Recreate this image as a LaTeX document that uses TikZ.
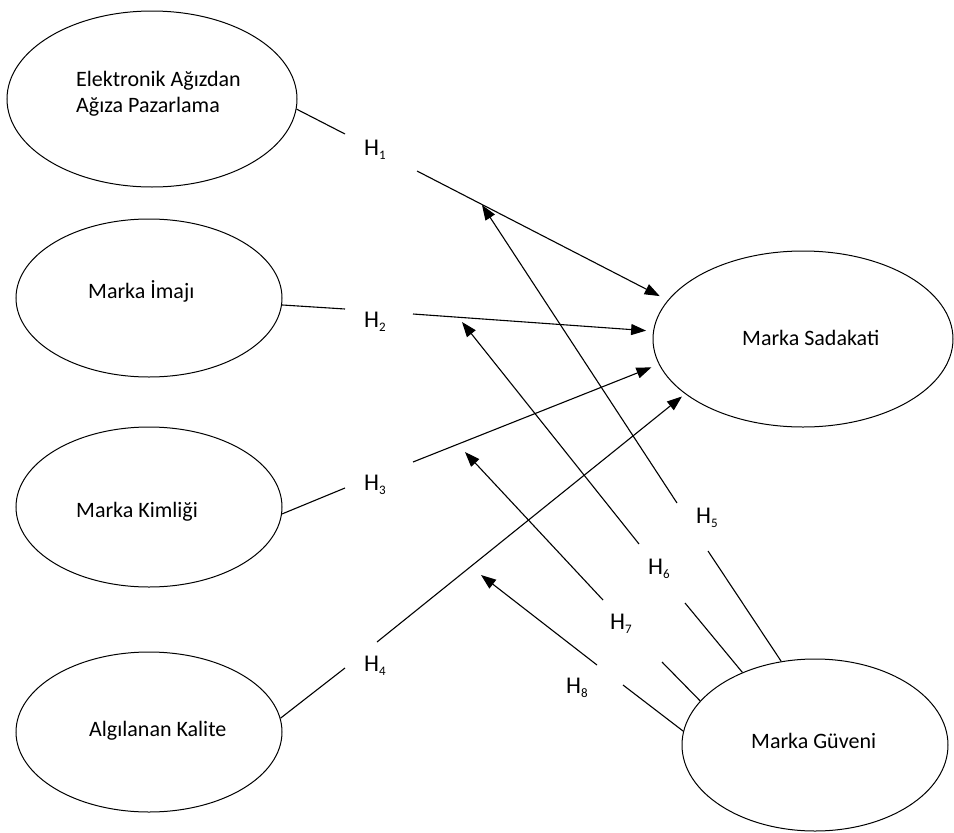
\documentclass[tikz,border=0pt]{standalone}
\usepackage{fontspec}
\setmainfont{Carlito}
\usetikzlibrary{arrows.meta,shapes.geometric}
\newcommand\hsub[1]{\raisebox{-4pt}{\fontsize{13}{13}\selectfont #1}}
\begin{document}
\begin{tikzpicture}[x=1pt,y=-1pt,
  ell/.style={draw, ellipse, line width=1pt, inner sep=0pt},
  lbl/.style={inner sep=0pt, anchor=base west, font=\fontsize{22}{26}\selectfont},
  hyp/.style={inner sep=0pt, anchor=base west, font=\fontsize{24}{28}\selectfont},
  conn/.style={line width=1.1pt},
  arr/.style={conn, -{Triangle[length=15pt,width=11pt]}}
]
\useasboundingbox (0,0) rectangle (954,833);

% ellipses
\node[ell, minimum width=290pt, minimum height=176pt] (e1) at (152,99) {};
\node[ell, minimum width=266pt, minimum height=158pt] (e2) at (149,298) {};
\node[ell, minimum width=266pt, minimum height=160pt] (e3) at (149,507) {};
\node[ell, minimum width=266pt, minimum height=160pt] (e4) at (149,732) {};
\node[ell, minimum width=300pt, minimum height=176pt] (sad) at (803,339) {};
\node[ell, minimum width=266pt, minimum height=172pt] (gue) at (815,745) {};

% texts
\node[lbl] (t1a) at (76,86) {Elektronik Ağızdan};
\node[lbl] (t1b) at (76,112) {Ağıza Pazarlama};
\node[lbl] (t2) at (88,298) {Marka İmajı};
\node[lbl] (t3) at (76,517) {Marka Kimliği};
\node[lbl] (t4) at (89,736) {Algılanan Kalite};
\node[lbl] (t5) at (742,345) {Marka Sadakati};
\node[lbl] (t6) at (751,748) {Marka Güveni};

% hypothesis labels
\node[hyp] (h1) at (364,155) {H\hsub{1}};
\node[hyp] (h2) at (364,327) {H\hsub{2}};
\node[hyp] (h3) at (364,490) {H\hsub{3}};
\node[hyp] (h4) at (364,671) {H\hsub{4}};
\node[hyp] (h5) at (696,523) {H\hsub{5}};
\node[hyp] (h6) at (648,574) {H\hsub{6}};
\node[hyp] (h7) at (610,629) {H\hsub{7}};
\node[hyp] (h8) at (566,693) {H\hsub{8}};

% gap end points
\coordinate (h1a) at (345,134); \coordinate (h1b) at (417,171);
\coordinate (h2a) at (345,309); \coordinate (h2b) at (413,314);
\coordinate (h3a) at (345,488); \coordinate (h3b) at (413,462);
\coordinate (h4a) at (345,668); \coordinate (h4b) at (377,642);
\coordinate (h5a) at (708,551); \coordinate (h5b) at (677,503);
\coordinate (h6a) at (685,603); \coordinate (h6b) at (639,544);
\coordinate (h7a) at (662,662); \coordinate (h7b) at (603,600);
\coordinate (h8a) at (623,685); \coordinate (h8b) at (597,665);
% free arrow tips
\coordinate (p5) at (482,205);
\coordinate (p6) at (462,322);
\coordinate (p7) at (465,452);
\coordinate (p8) at (481,575);

% connectors to Marka Sadakati
\draw[conn] (e1.-4) -- (h1a);
\draw[arr, shorten >=9pt] (h1b) -- (sad.164);
\draw[conn] (e2.-3) -- (h2a);
\draw[arr, shorten >=7pt] (h2b) -- (sad.177);
\draw[conn] (e3.-3) -- (h3a);
\draw[arr, shorten >=8pt] (h3b) -- (sad.-170);
\draw[conn] (e4.6) -- (h4a);
\draw[arr, shorten >=4pt] (h4b) -- (sad.-155);

% moderating connectors from Marka Güveni
\draw[conn] (gue.112) -- (h5a);
\draw[arr] (h5b) -- (p5);
\draw[conn] (gue.135) -- (h6a);
\draw[arr] (h6b) -- (p6);
\draw[conn] (gue.159) -- (h7a);
\draw[arr] (h7b) -- (p7);
\draw[conn] (gue.174) -- (h8a);
\draw[arr] (h8b) -- (p8);
\end{tikzpicture}
\end{document}
